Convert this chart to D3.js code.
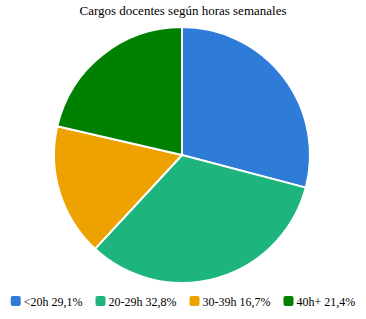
<!DOCTYPE html>
<html>
<head>
<meta charset="utf-8">
<script src="https://cdn.jsdelivr.net/npm/d3@7"></script>
<style>
  body { margin: 0; background: #fff; }
</style>
</head>
<body>
<div id="chart"></div>
<script>
const categories = ["<20h", "20-29h", "30-39h", "40h+"];
const values = [29.1, 32.8, 16.7, 21.4];
const colors = ["#2e7bd8", "#1db47e", "#eea200", "#008000"];

const width = 366, height = 319;
const cx = 182, cy = 155, radius = 128;
const font = "'Times New Roman', 'Liberation Serif', Times, serif";

const svg = d3.select("#chart").append("svg")
  .attr("width", width)
  .attr("height", height)
  .style("font-family", font);

// Title
svg.append("text")
  .attr("x", width / 2)
  .attr("y", 15)
  .attr("text-anchor", "middle")
  .style("font-size", "13px")
  .text("Cargos docentes según horas semanales");

const data = categories.map((c, i) => ({ label: c, value: values[i], color: colors[i] }));

const pie = d3.pie().value(d => d.value).sort(null);
const arc = d3.arc().innerRadius(0).outerRadius(radius);

const g = svg.append("g").attr("transform", `translate(${cx},${cy})`);

g.selectAll("path")
  .data(pie(data))
  .join("path")
  .attr("d", arc)
  .attr("fill", d => d.data.color)
  .attr("stroke", "#fff")
  .attr("stroke-width", 2);

// Legend, laid out in one centred row
const fmt = v => v.toFixed(1).replace(".", ",") + "%";
const legend = svg.append("g");

const items = legend.selectAll("g")
  .data(data)
  .join("g");

items.append("rect")
  .attr("y", 296)
  .attr("width", 10)
  .attr("height", 10)
  .attr("rx", 2)
  .attr("fill", d => d.color);

items.append("text")
  .attr("x", 13)
  .attr("y", 306)
  .style("font-size", "12px")
  .text(d => `${d.label} ${fmt(d.value)}`);

let x = 0;
const offsets = [];
items.each(function () {
  offsets.push(x);
  x += 13 + d3.select(this).select("text").node().getComputedTextLength() + 13;
});
const total = x - 13;
const start = (width - total) / 2;
items.attr("transform", (d, i) => `translate(${start + offsets[i]},0)`);
</script>
</body>
</html>
